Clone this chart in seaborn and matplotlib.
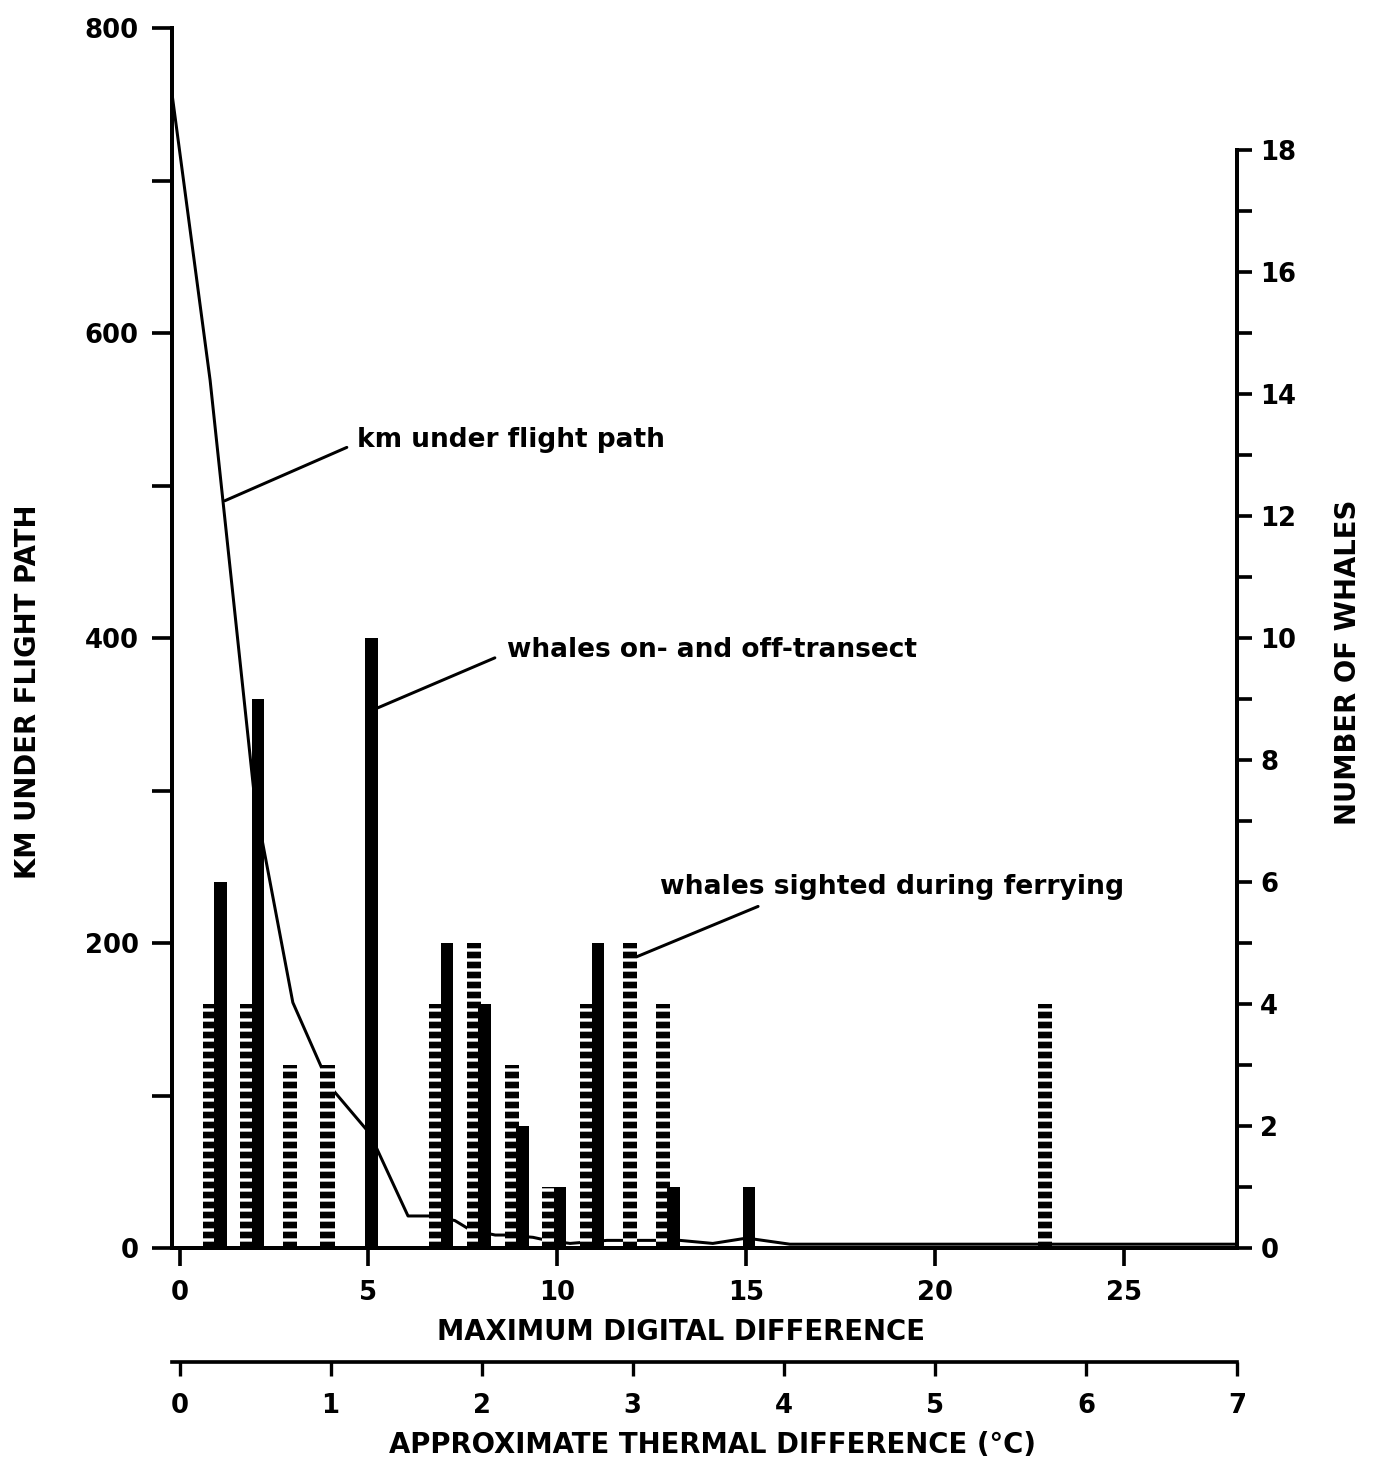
import numpy as np
import pandas as pd
import matplotlib
matplotlib.use("Agg")
import matplotlib.pyplot as plt
import seaborn as sns
from matplotlib.ticker import FixedLocator

# ---------------- data ----------------
digital_ticks = [0, 5, 10, 15, 20, 25]
thermal_ticks = [0, 1, 2, 3, 4, 5, 6, 7]
km_ticks = [0, 200, 400, 600, 800]
km_minor = [100, 300, 500, 700]
whale_ticks = [0, 2, 4, 6, 8, 10, 12, 14, 16, 18]
whale_minor = [1, 3, 5, 7, 9, 11, 13, 15, 17]

# km under flight path (line)
km_x = [-0.2, 0.81, 2.0, 3.0, 3.98, 5.04, 6.05, 6.71, 7.29, 7.69, 8.36, 8.67,
        9.36, 9.73, 10.34, 11.32, 12.72, 13.25, 14.12, 15.02, 16.16, 28.0]
km_y = [757, 569, 292, 161, 106, 75, 21, 21, 18, 12, 8.5, 8.5,
        7, 5, 3, 5, 5, 5, 3, 6.5, 2.5, 2.5]

# whales on- and off-transect (solid bars)
trans_x = [1, 2, 5, 7, 8, 9, 10, 11, 13, 15]
trans_n = [6, 9, 10, 5, 4, 2, 1, 5, 1, 1]

# whales sighted during ferrying (dashed bars)
ferry_x = [1, 2, 3, 4, 7, 8, 9, 10, 11, 12, 13, 23]
ferry_n = [4, 4, 3, 3, 4, 5, 3, 1, 4, 5, 4, 4]

label_km = "km under flight path"
label_trans = "whales on- and off-transect"
label_ferry = "whales sighted during ferrying"
xlabel = "MAXIMUM DIGITAL DIFFERENCE"
x2label = "APPROXIMATE THERMAL DIFFERENCE (°C)"
ylabel = "KM UNDER FLIGHT PATH"
y2label = "NUMBER OF WHALES"

# ---------------- styling ----------------
DPI = 120
W, H = 1378, 1464
sns.set_style("ticks")
plt.rcParams.update({
    "font.family": ["DejaVu Sans"],
    "font.weight": "bold",
    "hatch.linewidth": 4.0,
    "hatch.color": "black",
    "axes.edgecolor": "black",
    "xtick.color": "black",
    "ytick.color": "black",
    "text.color": "black",
})

fig = plt.figure(figsize=(W / DPI, H / DPI), dpi=DPI)
fig.patch.set_facecolor("white")
ax = fig.add_axes([0.1248, 0.14754, 0.77286, 0.83333])
ax.set_facecolor("white")

XMIN, XMAX = -0.2, 28

# line
sns.lineplot(x=km_x, y=km_y, ax=ax, color="black", linewidth=1.8,
             estimator=None, sort=False)
ax.set_xlim(XMIN, XMAX)
ax.set_ylim(0, 800)

# bars on right axis
ax2 = ax.twinx()
trans_set = set(trans_x)
ferry_pos = [x - 0.2 if x in trans_set else x - 0.08 for x in ferry_x]
trans_pos = [x + 0.08 for x in trans_x]


def native_w(pos):
    return float(np.diff(np.unique(pos)).min())


ferry_df = pd.DataFrame({"pos": ferry_pos, "n": ferry_n})
trans_df = pd.DataFrame({"pos": trans_pos, "n": trans_n})

sns.barplot(data=ferry_df, x="pos", y="n", native_scale=True, orient="x",
            width=0.38 / native_w(ferry_pos), errorbar=None, color="white",
            saturation=1, ax=ax2)
sns.barplot(data=trans_df, x="pos", y="n", native_scale=True, orient="x",
            width=0.33 / native_w(trans_pos), errorbar=None, color="black",
            saturation=1, ax=ax2)

for bar in ax2.containers[0]:
    bar.set_facecolor("white")
    bar.set_edgecolor("black")
    bar.set_linewidth(0)
    bar.set_hatch("--")
for bar in ax2.containers[1]:
    bar.set_facecolor("black")
    bar.set_edgecolor("black")
    bar.set_linewidth(0)

ax2.set_ylim(0, 20)
ax.set_xlim(XMIN, XMAX)
ax2.set_xlim(XMIN, XMAX)
for a in (ax, ax2):
    a.set_xlabel("")
    a.set_ylabel("")

# spines
SP = 2.4
ax.spines["top"].set_visible(False)
ax.spines["right"].set_visible(False)
ax.spines["left"].set_linewidth(SP)
ax.spines["bottom"].set_linewidth(SP)
for s in ("top", "left", "bottom"):
    ax2.spines[s].set_visible(False)
ax2.spines["right"].set_linewidth(SP)
ax2.spines["right"].set_bounds(0, 18)

# ticks
ax.set_xticks(digital_ticks)
ax.set_xticklabels([str(t) for t in digital_ticks])
ax.set_yticks(km_ticks)
ax.set_yticklabels([str(t) for t in km_ticks])
ax.yaxis.set_minor_locator(FixedLocator(km_minor))
ax.tick_params(axis="y", which="both", direction="out", length=12, width=2.2,
               pad=8, labelsize=15.5, left=True, right=False)
ax.tick_params(axis="x", which="major", direction="out", length=11, width=2.2,
               pad=8, labelsize=15.5)
ax.tick_params(axis="x", which="minor", bottom=False)

ax2.set_yticks(whale_ticks)
ax2.set_yticklabels([str(t) for t in whale_ticks])
ax2.yaxis.set_minor_locator(FixedLocator(whale_minor))
ax2.tick_params(axis="y", which="both", direction="out", length=9, width=2.2,
                pad=5, labelsize=15.5, right=True, left=False)

# secondary thermal axis
sec = ax.secondary_xaxis(-0.0934, functions=(lambda v: v / 4.0, lambda v: v * 4.0))
sec.set_xticks(thermal_ticks)
sec.set_xticklabels([str(t) for t in thermal_ticks])
sec.tick_params(axis="x", direction="out", length=8.5, width=2.0, pad=10,
                labelsize=15.5)
sec.spines["bottom"].set_linewidth(2.2)

# annotations: leader lines and texts
lead = dict(arrowstyle="-", color="black", lw=1.8, shrinkA=0, shrinkB=0)
ax.annotate("", xy=(1.20, 490), xytext=(4.43, 525), arrowprops=lead)
ax.text(4.70, 530, label_km, ha="left", va="center", fontsize=15.8)
ax.annotate("", xy=(5.23, 354), xytext=(8.35, 387), arrowprops=lead)
ax.text(8.67, 392, label_trans, ha="left", va="center", fontsize=15.8)
ax.annotate("", xy=(12.01, 190), xytext=(15.32, 224), arrowprops=lead)
ax.text(12.72, 237, label_ferry, ha="left", va="center", fontsize=16.0)

# axis labels
fig.text(28 / W, 1 - 692 / H, ylabel, rotation=90, ha="center", va="center",
         fontsize=16.5)
fig.text(1348 / W, 1 - 662 / H, y2label, rotation=90, ha="center", va="center",
         fontsize=16.5)
fig.text(681 / W, 1 - 1332 / H, xlabel, ha="center", va="center", fontsize=16.5)
fig.text(712 / W, 1 - 1445 / H, x2label, ha="center", va="center", fontsize=16.5)

fig.savefig("out.png", dpi=DPI, facecolor="white")
